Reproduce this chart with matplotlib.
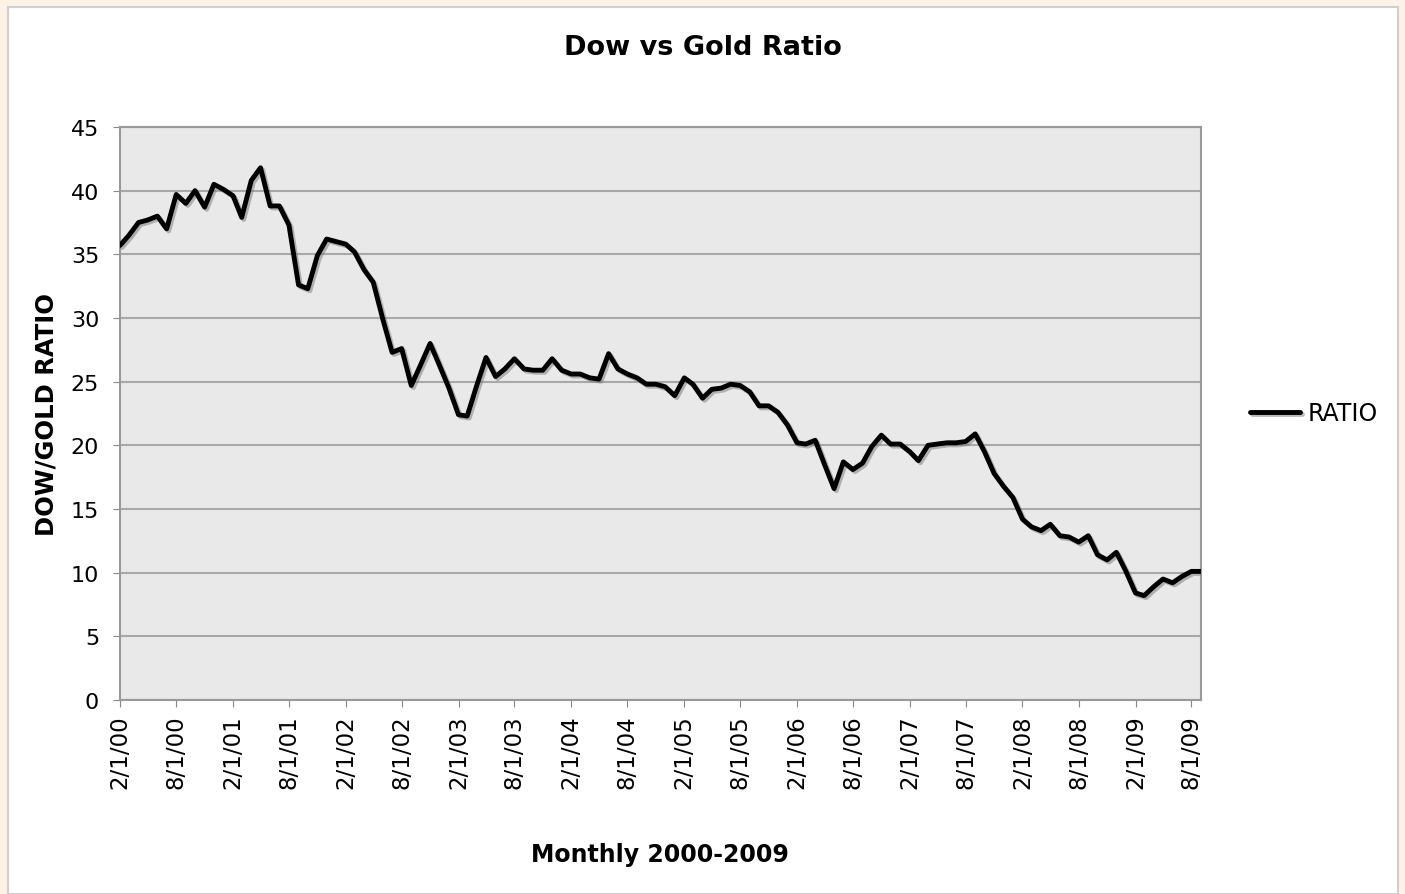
import matplotlib
matplotlib.use("Agg")
import matplotlib.pyplot as plt
import matplotlib.patheffects as pe
from matplotlib.patches import Rectangle
from matplotlib.ticker import FuncFormatter
import matplotlib.dates as mdates
import pandas as pd

# monthly Dow / Gold ratio, Feb 2000 .. Sep 2009
months = pd.date_range("2000-02-01", "2009-09-01", freq="MS")
ratio = [
    35.7, 36.5, 37.5, 37.7, 38.0, 37.0, 39.7, 39.0, 40.0, 38.7,
    40.5, 40.1, 39.6, 37.9, 40.8, 41.8, 38.8, 38.8, 37.3, 32.6,
    32.3, 34.9, 36.2, 36.0, 35.8, 35.2, 33.8, 32.8, 29.9, 27.3,
    27.6, 24.7, 26.3, 28.0, 26.3, 24.5, 22.4, 22.3, 24.7, 26.9,
    25.4, 26.0, 26.8, 26.0, 25.9, 25.9, 26.8, 25.9, 25.6, 25.6,
    25.3, 25.2, 27.2, 26.0, 25.6, 25.3, 24.8, 24.8, 24.6, 23.9,
    25.3, 24.8, 23.7, 24.4, 24.5, 24.8, 24.7, 24.2, 23.1, 23.1,
    22.6, 21.6, 20.2, 20.1, 20.4, 18.5, 16.6, 18.7, 18.1, 18.6,
    19.9, 20.8, 20.1, 20.1, 19.5, 18.8, 20.0, 20.1, 20.2, 20.2,
    20.3, 20.9, 19.5, 17.8, 16.8, 15.9, 14.2, 13.6, 13.3, 13.8,
    12.9, 12.8, 12.4, 12.9, 11.4, 11.0, 11.6, 10.1, 8.4, 8.2,
    8.9, 9.5, 9.2, 9.7, 10.1, 10.1,
]
tick_dates = pd.date_range("2000-02-01", "2009-08-01", freq="6MS")
y_ticks = list(range(0, 50, 5))

fig = plt.figure(figsize=(14.05, 8.95), dpi=100, facecolor="#fcf3e6")
fig.patches.append(Rectangle((8 / 1405, 0), 1390 / 1405, 887 / 895,
                             transform=fig.transFigure, facecolor="white",
                             edgecolor="#cfcfcf", linewidth=1.5, zorder=-10))

ax = fig.add_axes([120 / 1405, 1 - 701 / 895, 1081 / 1405, 573 / 895])
ax.set_zorder(5)
ax.set_facecolor("#e9e9e9")

line, = ax.plot(months, ratio, color="black", linewidth=3.5,
                solid_joinstyle="round", solid_capstyle="round", label="RATIO", zorder=3)
line.set_path_effects([pe.SimpleLineShadow(offset=(1.5, -1.5), shadow_color="#777777", alpha=0.5),
                       pe.Normal()])

ax.set_xlim(months[0], months[-1])
ax.set_ylim(0, 45)
ax.set_yticks(y_ticks)
ax.set_xticks(tick_dates)
ax.xaxis.set_major_formatter(FuncFormatter(
    lambda v, pos: (lambda d: f"{d.month}/{d.day}/{d:%y}")(mdates.num2date(v))))
ax.tick_params(axis="x", labelrotation=90, labelsize=16.5, length=5, color="#888888", pad=5)
ax.tick_params(axis="y", labelsize=16, length=5, color="#888888", pad=10)

ax.grid(axis="y", color="#a8a8a8", linewidth=1.5)
ax.set_axisbelow(True)
for side in ["left", "bottom", "top", "right"]:
    ax.spines[side].set_color("#999999")
    ax.spines[side].set_linewidth(1.5)

fig.text(703 / 1405, 1 - 48 / 895, "Dow vs Gold Ratio", ha="center", va="center",
         fontsize=19.5, fontweight="bold")
fig.text(47 / 1405, 1 - 415 / 895, "DOW/GOLD RATIO", ha="center", va="center",
         rotation=90, fontsize=17.5, fontweight="bold")
fig.text(660 / 1405, 1 - 855 / 895, "Monthly 2000-2009", ha="center", va="center",
         fontsize=17, fontweight="bold")

fig.legend(handles=[line], loc="center left", frameon=False, fontsize=17,
           handlelength=2.1, handletextpad=0.35, borderpad=0, borderaxespad=0,
           bbox_to_anchor=(1250 / 1405, 1 - 414 / 895))

fig.savefig("out.png", dpi=100, facecolor=fig.get_facecolor())
